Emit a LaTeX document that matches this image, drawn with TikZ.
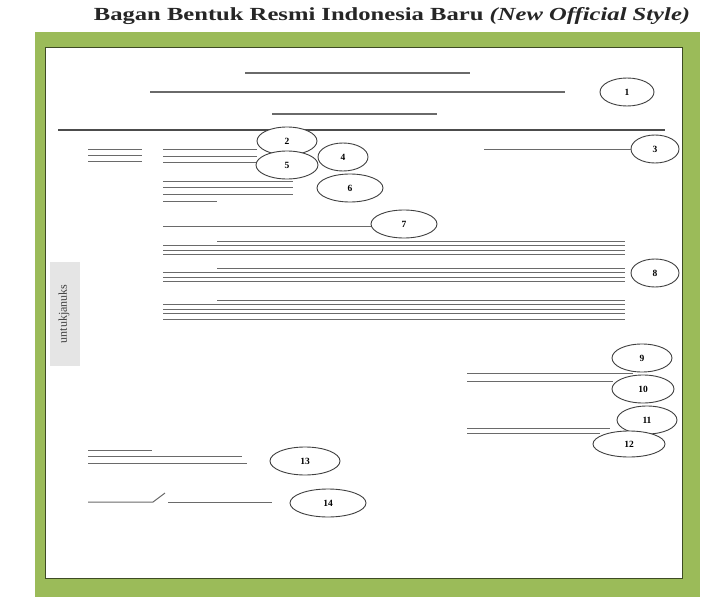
\documentclass[tikz,border=0pt]{standalone}
\usepackage{fontspec}
\setmainfont{Liberation Serif}
\usetikzlibrary{shapes.geometric}
\definecolor{frameg}{HTML}{9BBB59}
\definecolor{lineg}{HTML}{6A6A6A}
\tikzset{
  num/.style={draw=black!75, line width=0.9pt, ellipse, inner sep=0pt, minimum width=2*#1, minimum height=28pt, font=\fontsize{9.5}{10}\selectfont\bfseries},
  num/.default=28pt,
  ln/.style={draw=lineg, line width=1.3pt},
  thinln/.style={draw=lineg, line width=1pt},
}
\begin{document}
\begin{tikzpicture}[x=1pt,y=-1pt]
\useasboundingbox (0,0) rectangle (705,597);
\fill[white] (0,0) rectangle (705,597);
% title
\node[font=\fontsize{18.5}{20}\selectfont\bfseries, text=black!85, anchor=center, inner sep=0pt] (title) at (392,16) {\scalebox{1.33}[1]{Bagan Bentuk Resmi Indonesia Baru \textit{(New Official Style)}}};
% frame
\fill[frameg] (35,32) rectangle (700,597);
\fill[white] (45,47) rectangle (682,578);
\draw[black!60!frameg, line width=1pt] (45,47) rectangle (682,578);
% side label
\fill[black!10] (50,262) rectangle (80,366);
\node[rotate=90, font=\fontsize{12}{13}\selectfont, text=black!75] (side) at (64,314) {untukjanuks};
% header lines
\draw[ln] (245,73) -- (470,73);
\draw[ln] (150,92) -- (565,92);
\draw[ln] (272,114) -- (437,114);
\draw[draw=black!70, line width=2.6pt] (58,130) -- (665,130);
\node[num=27pt] (c1) at (627,92) {1};
% left block
\foreach \yy in {149,155,161} {\draw[thinln] (88,\yy) -- (142,\yy);}
\foreach \yy in {149,156,162} {\draw[thinln] (163,\yy) -- (257,\yy);}
\foreach \yy in {181,187,194} {\draw[thinln] (163,\yy) -- (293,\yy);}
\draw[thinln] (163,201) -- (217,201);
% circles 2-6
\node[num=30pt, fill=white] (c2) at (287,141) {2};
\node[num=31pt, fill=white] (c5) at (287,165) {5};
\node[num=25pt, fill=white] (c4) at (343,157) {4};
\node[num=33pt, fill=white] (c6) at (350,188) {6};
\coordinate (l3) at (484,149);
\node[num=24pt, fill=white] (c3) at (655,149) {3};
\draw[thinln] (l3) -- (l3 -| c3.west);
% 7
\coordinate (l7) at (163,226);
\node[num=33pt] (c7) at (404,224) {7};
\draw[thinln] (l7) -- (l7 -| c7.west);
% paragraphs
\foreach \top in {241,268,300} {
  \draw[thinln] (217,\top) -- (625,\top);
  \foreach \d in {4.5,9,13.5} {\draw[thinln] (163,\top+\d) -- (625,\top+\d);}
}
\draw[thinln] (163,319) -- (625,319);
\node[num=24pt] (c8) at (655,273) {8};
% closing
\node[num=30pt, fill=white] (c9) at (642,358) {9};
\draw[thinln] (467,373) -- (633,373);
\draw[thinln] (467,381) -- (613,381);
\node[num=31pt, fill=white] (c10) at (643,389) {10};
\node[num=30pt, fill=white] (c11) at (647,420) {11};
\draw[thinln] (467,428) -- (610,428);
\draw[thinln] (467,433) -- (600,433);
\node[num=36pt, fill=white, minimum height=26pt] (c12) at (629,444) {12};
% bottom left
\draw[thinln] (88,450) -- (152,450);
\draw[thinln] (88,456) -- (242,456);
\draw[thinln] (88,463) -- (247,463);
\node[num=35pt] (c13) at (305,461) {13};
\coordinate (a14) at (88,502);
\coordinate (b14) at (153,502);
\coordinate (s14) at (165,493);
\coordinate (d14) at (168,502);
\coordinate (e14) at (272,502);
\draw[thinln] (a14) -- (b14) -- (s14);
\draw[thinln] (d14) -- (e14);
\node[num=38pt] (c14) at (328,503) {14};
\end{tikzpicture}
\end{document}
